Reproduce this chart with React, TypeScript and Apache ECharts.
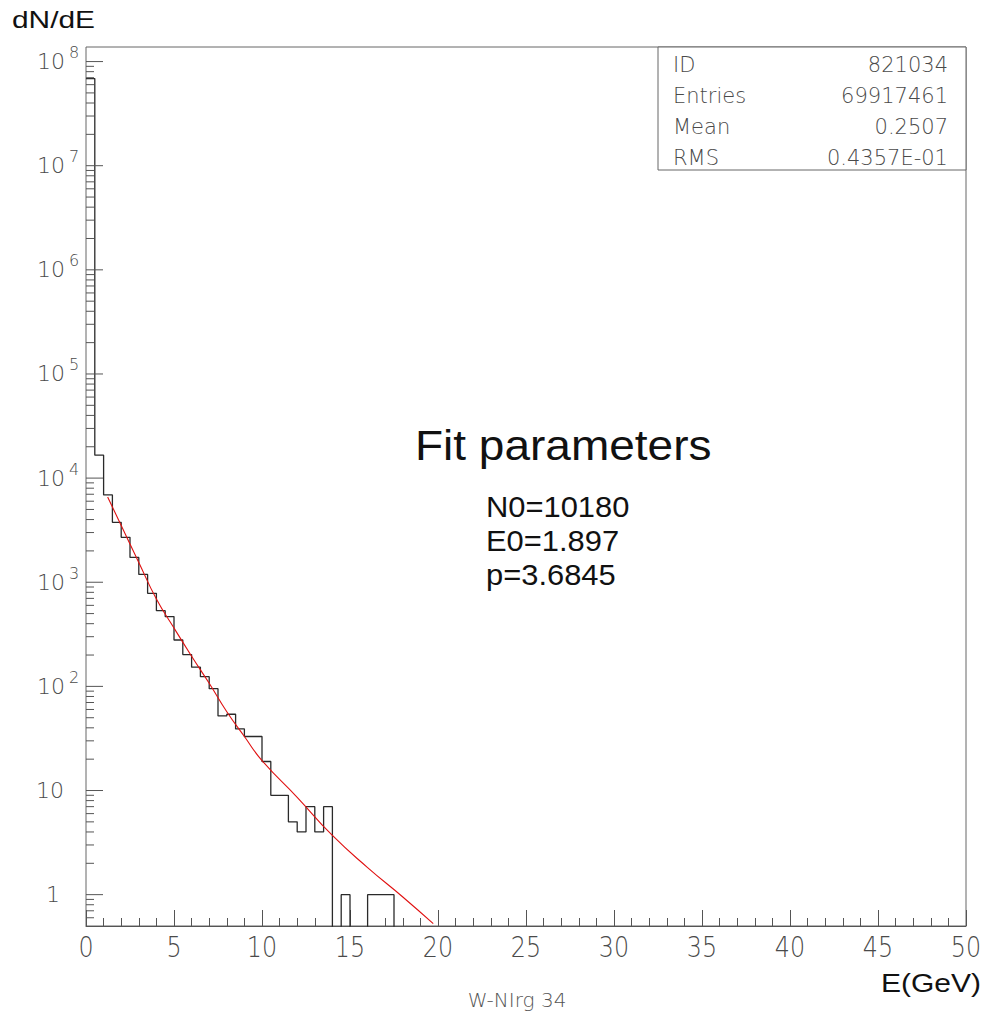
import React, { useEffect, useRef } from 'react';
import * as echarts from 'echarts';

// Histogram: 0.5 GeV bins starting at 0
const binStart = 0;
const binWidth = 0.5;
const binCounts = [
  68700000, 16600, 6900, 3760, 2700, 1730, 1190, 783, 533, 468,
  279, 202, 153, 124, 95, 52, 54, 39, 33, 33,
  19, 9, 9, 5, 4, 7, 4, 7, 0, 1,
  0, 0, 1, 1, 1, 0,
];

// Fit curve
const fitE = [1.23, 2, 3, 4, 5, 6, 7, 8, 9, 10, 12, 14, 16, 18, 19.73];
const fitN = [6600, 3500, 1550, 690, 363, 195, 107, 57, 33, 19.4, 8.6, 3.7, 1.82, 0.95, 0.527];

// Axes
const xMin = 0;
const xMax = 50;
const xInterval = 5;
const xTickLabels = [0, 5, 10, 15, 20, 25, 30, 35, 40, 45, 50];
const yMinValue = 0.5;
const yMaxValue = 1.38e8;
const yDecadeExponents = [0, 1, 2, 3, 4, 5, 6, 7, 8];
const yMinorMultipliers = [2, 3, 4, 5, 6, 7, 8, 9];

// Stats box
const statsLabels = ['ID', 'Entries', 'Mean', 'RMS'];
const statsValues = ['821034', '69917461', '0.2507', '0.4357E-01'];

// Fit text
const fitTitle = 'Fit parameters';
const fitParams = ['N0=10180', 'E0=1.897', 'p=3.6845'];

const LOW = -3; // log position used for empty bins (below axis, clipped)

export default function App() {
  const ref = useRef<HTMLDivElement>(null);
  useEffect(() => {
    document.body.style.margin = '0';
    if (!ref.current) return;
    const chart = echarts.init(ref.current, undefined, { renderer: 'svg' });

    const yMin = Math.log10(yMinValue);
    const yMax = Math.log10(yMaxValue);

    const histData: number[][] = binCounts.map((c, i) => [
      binStart + i * binWidth,
      c > 0 ? Math.log10(c) : LOW,
    ]);
    const lastC = binCounts[binCounts.length - 1];
    histData.push([binStart + binCounts.length * binWidth, lastC > 0 ? Math.log10(lastC) : LOW]);

    const fitData = fitE.map((e, i) => [e, Math.log10(fitN[i])]);

    // y tick data: [x, logValue, kind(1 major/0 minor), exponent]
    const yTicks: number[][] = [];
    yDecadeExponents.forEach((d) => yTicks.push([0, d, 1, d]));
    for (let d = -1; d <= 8; d++) {
      yMinorMultipliers.forEach((m) => {
        const lv = Math.log10(m) + d;
        if (lv > yMin + 1e-6 && lv < yMax) yTicks.push([0, lv, 0, d]);
      });
    }

    const xLabelData = xTickLabels.map((v) => [v, yMin]);

    const tickColor = '#555';
    const labelFont = "'DejaVu Sans', sans-serif";
    const sansFont = "'Liberation Sans', Arial, sans-serif";

    const option: any = {
      animation: false,
      grid: {
        left: 86,
        top: 47,
        width: 880,
        height: 879,
        show: true,
        borderColor: '#666',
        borderWidth: 1,
        backgroundColor: 'transparent',
      },
      xAxis: {
        type: 'value',
        min: xMin,
        max: xMax,
        interval: xInterval,
        axisLine: { show: true, onZero: false, lineStyle: { color: tickColor, width: 1 } },
        axisTick: { show: true, inside: true, length: 16, lineStyle: { color: tickColor, width: 1 } },
        minorTick: { show: true, splitNumber: 5, length: 8, lineStyle: { color: tickColor, width: 1 } },
        axisLabel: { show: false },
        splitLine: { show: false },
      },
      yAxis: {
        type: 'value',
        min: yMin,
        max: yMax,
        axisLine: { show: false },
        axisTick: { show: false },
        axisLabel: { show: false },
        splitLine: { show: false },
      },
      series: [
        {
          type: 'line',
          data: histData,
          step: 'end',
          symbol: 'none',
          clip: true,
          lineStyle: { color: '#2a2a2a', width: 1.3 },
          z: 3,
        },
        {
          type: 'line',
          data: fitData,
          smooth: true,
          symbol: 'none',
          clip: true,
          lineStyle: { color: '#e01010', width: 1.1 },
          z: 4,
        },
        {
          type: 'custom',
          data: yTicks,
          encode: { x: 0, y: 1 },
          silent: true,
          z: 5,
          renderItem: (params: any, api: any) => {
            const v = api.value(1);
            const major = api.value(2) === 1;
            const exp = api.value(3);
            const p = api.coord([0, v]);
            const children: any[] = [
              {
                type: 'line',
                shape: { x1: p[0], y1: p[1], x2: p[0] + (major ? 17 : 8), y2: p[1] },
                style: { stroke: tickColor, lineWidth: 1 },
              },
            ];
            if (major) {
              let base = '10';
              let baseRight = p[0] - 21;
              if (exp === 0) {
                base = '1';
                baseRight = p[0] - 26;
              } else if (exp === 1) {
                baseRight = p[0] - 22;
              }
              children.push({
                type: 'text',
                x: baseRight,
                y: p[1],
                style: {
                  text: base,
                  fontSize: 22,
                  fontFamily: labelFont,
                  fontWeight: 200,
                  fill: '#4a4a4a',
                  align: 'right',
                  verticalAlign: 'middle',
                },
              });
              if (exp >= 2) {
                children.push({
                  type: 'text',
                  x: p[0] - 17,
                  y: p[1] - 9,
                  style: {
                    text: String(exp),
                    fontSize: 16,
                    fontFamily: labelFont,
                    fontWeight: 200,
                    fill: '#4a4a4a',
                    align: 'left',
                    verticalAlign: 'middle',
                  },
                });
              }
            }
            return { type: 'group', children };
          },
        },
        {
          type: 'custom',
          data: xLabelData,
          encode: { x: 0, y: 1 },
          silent: true,
          z: 5,
          renderItem: (params: any, api: any) => {
            const p = api.coord([api.value(0), api.value(1)]);
            return {
              type: 'text',
              x: p[0],
              y: p[1] + 7,
              scaleX: 0.85,
              style: {
                text: String(api.value(0)),
                fontSize: 28,
                fontFamily: labelFont,
                fontWeight: 200,
                fill: '#4a4a4a',
                align: 'center',
                verticalAlign: 'top',
              },
            };
          },
        },
      ],
      graphic: [
        {
          type: 'text',
          x: 12,
          y: 20,
          scaleX: 1.3,
          style: {
            text: 'dN/dE',
            fontSize: 23,
            fontFamily: sansFont,
            fill: '#111',
            align: 'left',
            verticalAlign: 'middle',
          },
        },
        {
          type: 'text',
          x: 981,
          y: 983,
          scaleX: 1.2,
          style: {
            text: 'E(GeV)',
            fontSize: 25,
            fontFamily: sansFont,
            fill: '#111',
            align: 'right',
            verticalAlign: 'middle',
          },
        },
        {
          type: 'text',
          x: 517,
          y: 1000,
          style: {
            text: 'W-NIrg 34',
            fontSize: 20,
            fontFamily: labelFont,
            fontWeight: 200,
            fill: '#555',
            align: 'center',
            verticalAlign: 'middle',
          },
        },
        {
          type: 'rect',
          shape: { x: 658, y: 47, width: 308, height: 123 },
          style: { fill: '#fff', stroke: '#666', lineWidth: 1 },
          z: 10,
        },
        ...statsLabels.map((t, i) => ({
          type: 'text',
          x: 673,
          y: 65 + i * 31,
          z: 11,
          style: {
            text: t,
            fontSize: 21,
            fontFamily: labelFont,
            fontWeight: 200,
            fill: '#4a4a4a',
            align: 'left',
            verticalAlign: 'middle',
          },
        })),
        ...statsValues.map((t, i) => ({
          type: 'text',
          x: 948,
          y: 65 + i * 31,
          z: 11,
          style: {
            text: t,
            fontSize: 21,
            fontFamily: labelFont,
            fontWeight: 200,
            fill: '#4a4a4a',
            align: 'right',
            verticalAlign: 'middle',
          },
        })),
        {
          type: 'text',
          x: 415,
          y: 445,
          scaleX: 1.07,
          style: {
            text: fitTitle,
            fontSize: 43,
            fontFamily: sansFont,
            fill: '#111',
            align: 'left',
            verticalAlign: 'middle',
          },
        },
        ...fitParams.map((t, i) => ({
          type: 'text',
          x: 486,
          y: 506 + i * 34,
          scaleX: 1.03,
          style: {
            text: t,
            fontSize: 30,
            fontFamily: sansFont,
            fill: '#111',
            align: 'left',
            verticalAlign: 'middle',
          },
        })),
      ],
    };

    chart.setOption(option);
    return () => chart.dispose();
  }, []);

  return <div ref={ref} style={{ width: 990, height: 1018 }} />;
}
